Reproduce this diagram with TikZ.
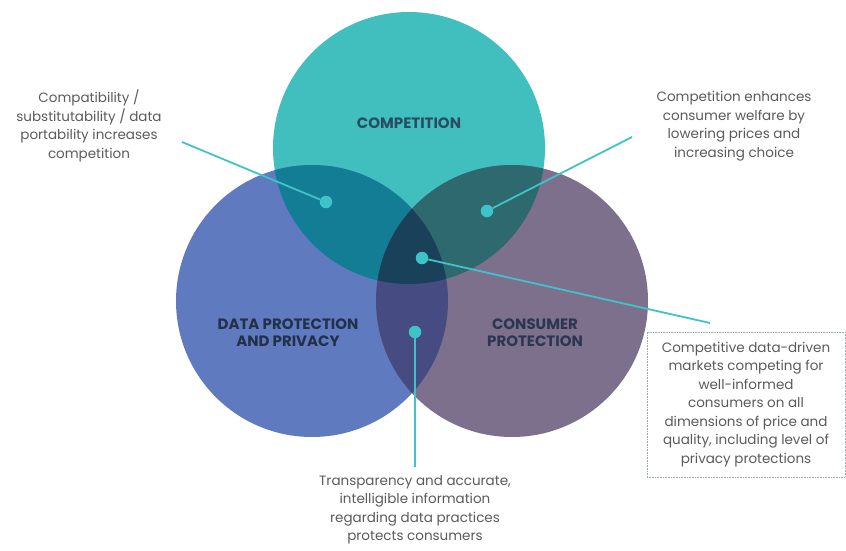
\documentclass[tikz,border=0pt]{standalone}
\usepackage{fontspec}
\setmainfont{Poppins}
\definecolor{cComp}{HTML}{41BFBF}
\definecolor{cData}{HTML}{607AC0}
\definecolor{cCons}{HTML}{7D708C}
\definecolor{cCD}{HTML}{147D96}
\definecolor{cCP}{HTML}{2D696E}
\definecolor{cDP}{HTML}{464B82}
\definecolor{cAll}{HTML}{19415A}
\definecolor{cDot}{HTML}{3FC3C8}
\definecolor{cTxt}{HTML}{5A5A5A}
\definecolor{cHd}{HTML}{22304A}
\definecolor{cBox}{HTML}{9AAAB0}
\tikzset{
  hd/.style={font=\bfseries\fontsize{15}{17}\selectfont, text=cHd, align=center, inner sep=0pt},
  body/.style={font=\fontsize{13.5}{18.5}\selectfont, text=cTxt, align=center, inner sep=0pt},
  dotnode/.style={circle, fill=cDot, inner sep=0pt, minimum size=12.5pt},
  conn/.style={draw=cDot, line width=1.8pt},
}
\begin{document}
\begin{tikzpicture}[x=1pt,y=-1pt]
\useasboundingbox (0,0) rectangle (846,551);
\coordinate (cc) at (409,148);
\coordinate (cd) at (312,301);
\coordinate (cp) at (512,301);
% circles
\fill[cComp] (cc) circle (136pt);
\fill[cData] (cd) circle (136pt);
\fill[cCons] (cp) circle (136pt);
% pairwise overlaps
\begin{scope}
  \clip (cc) circle (136pt);
  \fill[cCD] (cd) circle (136pt);
  \fill[cCP] (cp) circle (136pt);
\end{scope}
\begin{scope}
  \clip (cd) circle (136pt);
  \fill[cDP] (cp) circle (136pt);
\end{scope}
% triple overlap
\begin{scope}
  \clip (cc) circle (136pt);
  \clip (cd) circle (136pt);
  \fill[cAll] (cp) circle (136pt);
\end{scope}
% labels in circles
\node[hd, text=cHd!80!cComp] (lcomp) at (409,123) {COMPETITION};
\node[hd] (ldata) at (288,333) {DATA PROTECTION\\AND PRIVACY};
\node[hd, text=cHd!90!cCons] (lcons) at (535,333) {CONSUMER\\PROTECTION};
% dots
\node[dotnode] (d1) at (326,202) {};
\node[dotnode] (d2) at (487,211) {};
\node[dotnode] (d3) at (422,258) {};
\node[dotnode] (d4) at (415,332) {};
% texts
\node[body] (t1) at (89,126) {Compatibility /\\substitutability / data\\portability increases\\competition};
\node[body] (t2) at (734,126) {Competition enhances\\consumer welfare by\\lowering prices and\\increasing choice};
\node[body, draw=cBox, densely dotted, line width=0.6pt, minimum width=198pt, minimum height=145pt] (t3) at (746,404.5) {Competitive data-driven\\markets competing for\\well-informed\\consumers on all\\dimensions of price and\\quality, including level of\\privacy protections};
\node[body] (t4) at (415,510) {Transparency and accurate,\\intelligible information\\regarding data practices\\protects consumers};
% connector ends
\coordinate (e1) at (182,142);
\coordinate (e2) at (632,137);
\coordinate (e3) at (710,323);
\coordinate (e4) at (415,467);
\draw[conn] (d1) -- (e1);
\draw[conn] (d2) -- (e2);
\draw[conn] (d3) -- (e3);
\draw[conn] (d4) -- (e4);
\end{tikzpicture}
\end{document}
